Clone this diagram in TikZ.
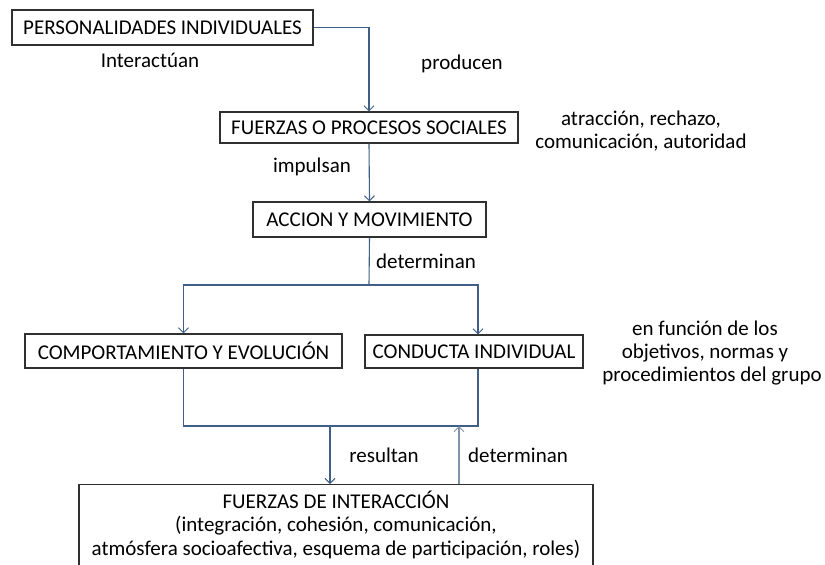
\documentclass[tikz,border=0pt]{standalone}
\usepackage{fontspec}
\setmainfont{Carlito}
\usetikzlibrary{arrows.meta}
\definecolor{conn}{HTML}{3F5F86}
\definecolor{connlight}{HTML}{7F93AA}
\definecolor{boxline}{HTML}{303030}
\tikzset{
  box/.style={draw=boxline, line width=1.1pt, inner sep=0pt, text=black},
  lbl/.style={anchor=base, inner sep=0pt, text=black},
  conn/.style={draw=conn, line width=1.1pt},
  arr/.style={conn, -{Straight Barb[length=5pt,width=10pt,line width=1pt]}},
}
\begin{document}
\begin{tikzpicture}[x=1pt,y=-1pt,font=\fontsize{21}{23.5}\selectfont]
\useasboundingbox (0,0) rectangle (825,565);
\fill[white] (0,0) rectangle (825,565);
% boxes
\node[box, minimum width=301pt, minimum height=35pt] (p1) at (162.5,27.5) {PERSONALIDADES INDIVIDUALES};
\node[box, minimum width=298pt, minimum height=31pt] (p2) at (369,127.5) {FUERZAS O PROCESOS SOCIALES};
\node[box, minimum width=233pt, minimum height=35pt] (p3) at (369.5,219.5) {ACCION Y MOVIMIENTO};
\node[box, minimum width=317pt, minimum height=34pt] (p4) at (183.5,351) {COMPORTAMIENTO Y EVOLUCIÓN};
\node[box, minimum width=218pt, minimum height=33pt] (p5) at (474,351.5) {CONDUCTA INDIVIDUAL};
\begin{scope}
\clip (0,0) rectangle (825,565);
\node[box, minimum width=514pt, minimum height=120pt, anchor=north] (p6) at (336,484) {};
\end{scope}
\node[lbl] (t6a) at (336,508) {FUERZAS DE INTERACCIÓN};
\node[lbl] (t6b) at (336,531.5) {(integración, cohesión, comunicación,};
\node[lbl] (t6c) at (336,555) {atmósfera socioafectiva, esquema de participación, roles)};
% labels
\node[lbl] (l1) at (150,67) {Interactúan};
\node[lbl] (l2) at (462,69) {producen};
\node[lbl] (l3) at (312,172) {impulsan};
\node[lbl] (l4) at (426,268) {determinan};
\node[lbl] (l5a) at (641,125) {atracción, rechazo,};
\node[lbl] (l5b) at (641,148) {comunicación, autoridad};
\node[lbl] (l6a) at (705,335) {en función de los};
\node[lbl] (l6b) at (705,358) {objetivos, normas y};
\node[lbl] (l6c) at (712,381) {procedimientos del grupo};
\node[lbl] (l7) at (384,462) {resultan};
\node[lbl, anchor=base west] (l8) at (468,462) {determinan};
% connectors
\draw[arr] (p1.east) -| (p2.north);
\draw[arr] (p2.south) -- (p3.north);
\coordinate (j1) at (369,285);
\draw[conn] (p3.south) -- (j1);
\draw[arr] (j1) -| (p4.north);
\draw[arr] (j1) -| ([xshift=4pt]p5.north);
\coordinate (j2) at (183.5,426);
\coordinate (j3) at (478,426);
\draw[conn] (p4.south) -- (j2) -- (j3) -- ([xshift=4pt]p5.south);
\coordinate (r1) at (330,426);
\draw[arr] (r1) -- (r1 |- p6.north);
\coordinate (d1) at (459,426);
\draw[conn, draw=connlight, -{Straight Barb[length=5pt,width=10pt,line width=1pt]}] (d1 |- p6.north) -- (d1);
\end{tikzpicture}
\end{document}
